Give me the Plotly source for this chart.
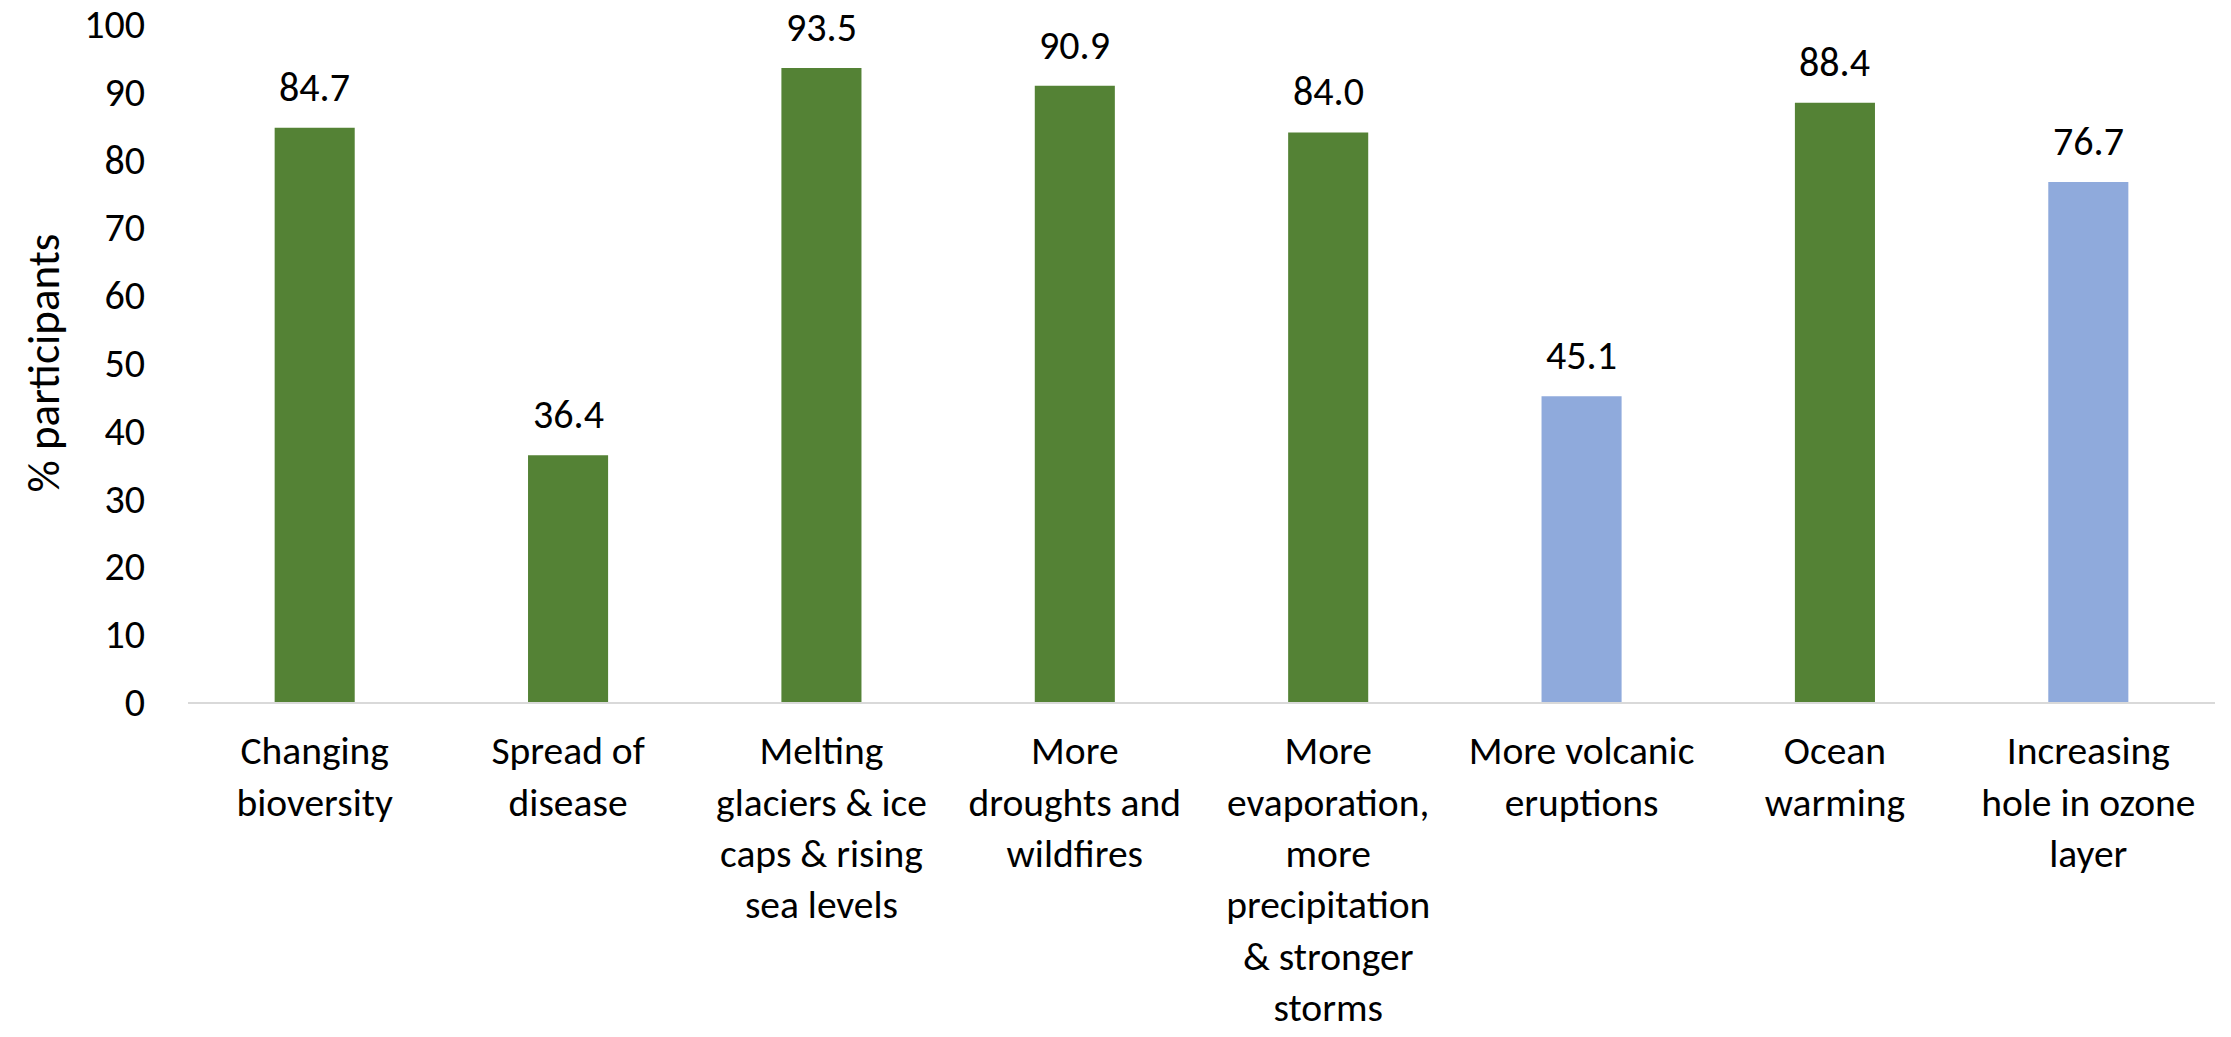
import plotly.graph_objects as go

categories = [
    "Changing<br>bioversity",
    "Spread of<br>disease",
    "Melting<br>glaciers & ice<br>caps & rising<br>sea levels",
    "More<br>droughts and<br>wildfires",
    "More<br>evaporation,<br>more<br>precipitation<br>& stronger<br>storms",
    "More volcanic<br>eruptions",
    "Ocean<br>warming",
    "Increasing<br>hole in ozone<br>layer",
]
values = [84.7, 36.4, 93.5, 90.9, 84.0, 45.1, 88.4, 76.7]
is_correct = [True, True, True, True, True, False, True, False]
y_ticks = [0, 10, 20, 30, 40, 50, 60, 70, 80, 90, 100]

GREEN = "#548235"
BLUE = "#8FAADC"
FONT = "Carlito, Lato, sans-serif"

colors = [GREEN if ok else BLUE for ok in is_correct]

fig = go.Figure(
    go.Bar(
        x=categories,
        y=values,
        marker=dict(color=colors, line=dict(width=0)),
        hoverinfo="x+y",
    )
)

# value labels sitting above each bar
for cat, v in zip(categories, values):
    fig.add_annotation(
        x=cat,
        y=v,
        text=f"{v:.1f}",
        showarrow=False,
        yanchor="bottom",
        yshift=14,
        font=dict(family=FONT, size=40, color="black"),
    )

fig.update_layout(
    width=2231,
    height=1037,
    margin=dict(l=188, r=16, t=24, b=335, autoexpand=False),
    paper_bgcolor="white",
    plot_bgcolor="white",
    bargap=0.684,
    showlegend=False,
    font=dict(family=FONT, size=40, color="black"),
)

fig.update_xaxes(
    automargin=False,
    showgrid=False,
    showline=True,
    linecolor="#D9D9D9",
    linewidth=2,
    ticks="",
    ticklabelstandoff=13,
    ticklabeloverflow="allow",
    tickfont=dict(family=FONT, size=39.5, color="black"),
    tickangle=0,
)

fig.update_yaxes(
    automargin=False,
    range=[0, 100],
    tickmode="array",
    tickvals=y_ticks,
    ticktext=[str(t) for t in y_ticks],
    ticklabeloverflow="allow",
    showgrid=False,
    zeroline=False,
    showline=False,
    ticks="",
    ticklabelstandoff=42,
    tickfont=dict(family=FONT, size=40, color="black"),
    title=dict(text="% participants", font=dict(family=FONT, size=45, color="black"), standoff=10),
)

fig.write_html("out.html")
